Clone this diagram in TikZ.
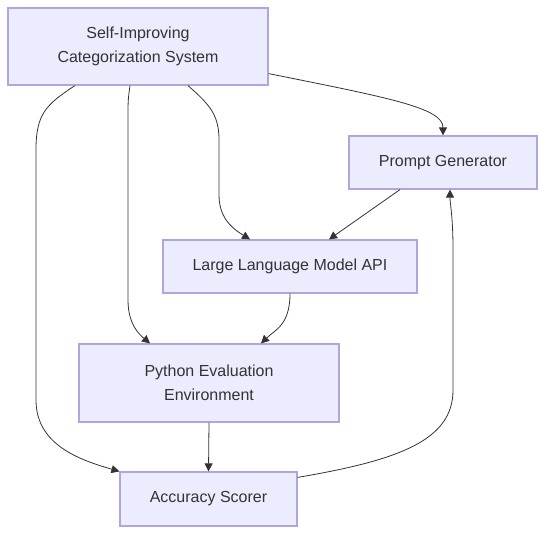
\documentclass[tikz,border=0pt]{standalone}
\usepackage{fontspec}
\setmainfont{Liberation Sans}
\usepackage{xcolor}
\usepackage{tikz}
\usetikzlibrary{arrows.meta,positioning,calc}
\definecolor{boxfill}{HTML}{ECECFF}
\definecolor{boxline}{HTML}{B3A4DE}
\definecolor{inkgray}{HTML}{333333}

\begin{document}
\begin{tikzpicture}[x=0.75pt,y=-0.75pt,font=\fontsize{12}{18}\selectfont,
        box/.style={draw=boxline,fill=boxfill,text=inkgray,align=center,
              inner sep=0pt,line width=0.9pt},
        link/.style={-{Triangle[length=6pt,width=6pt]},draw=inkgray,
              fill=none,line width=0.6pt}]
        \useasboundingbox (0,0) rectangle (545,534);
        \node[box,minimum width=195pt,minimum height=57.75pt] (sys)
              at (138,46.5) {Self-Improving\\Categorization System};
        \node[box,minimum width=141pt,minimum height=39.75pt] (prompt)
              at (443,162.5) {Prompt Generator};
        \node[box,minimum width=190.5pt,minimum height=39.75pt] (llm)
              at (290,266.5) {Large Language Model API};
        \node[box,minimum width=195pt,minimum height=58.5pt] (python)
              at (209,383) {Python Evaluation\\Environment};
        \node[box,minimum width=132.75pt,minimum height=40.5pt] (scorer)
              at (208.5,499) {Accuracy Scorer};
        % links from the system box
        \draw[link] ($(sys.south east)+(0,-12)$) .. controls (390,98) and (443,108) .. (prompt.north);
        \draw[link] ($(sys.south)+(50,0)$) .. controls (210,105) and (219,115) .. (219,140)
              -- (219,195) .. controls (219,220) and (235,230) .. ($(llm.north)+(-40,0)$);
        \draw[link] ($(sys.south)+(-8,0)$) .. controls (128,100) .. (128,120)
              -- (128,300) .. controls (128,325) and (140,335) .. ($(python.north)+(-59,0)$);
        \draw[link] ($(sys.south)+(-63,0)$) .. controls (45,105) and (36,115) .. (36,150)
              -- (36,400) .. controls (36,445) and (80,460) .. (scorer.north west);
        % remaining links
        \draw[link] ($(prompt.south)+(-43,0)$) -- ($(llm.north)+(39,0)$);
        \draw[link] (llm.south) .. controls (290,325) and (275,330) .. ($(python.north)+(52,0)$);
        \draw[link] (python.south) -- (scorer.north);
        \draw[link] ($(scorer.north east)+(0,6)$) .. controls (400,460) and (453,440) .. (453,390)
              -- (453,250) .. controls (453,215) and (450,205) .. ($(prompt.south)+(7,0)$);
\end{tikzpicture}
\end{document}
